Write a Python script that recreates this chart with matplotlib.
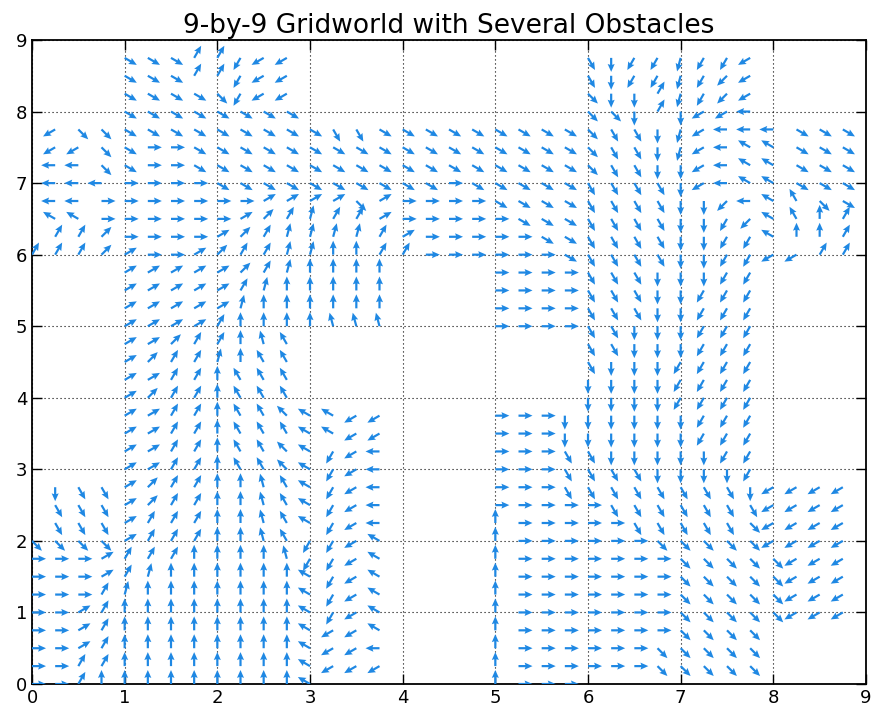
import numpy as np
import matplotlib
matplotlib.use("Agg")
import matplotlib.pyplot as plt

# ---- DATA ----
# one letter per grid state (0.25 spacing), 15 degree steps:
# a=0 (east), g=90 (north), m=180 (west), s=270 (south) ... x=345
# '.' = obstacle, no arrow.  Rows run from y=8.75 (top) down to y=0,
# groups of four letters are the nine unit cells x=0..9
dir_letters = "abcdefghijklmnopqrstuvwx"
step = 0.25
policy_rows = [
    ".... wwwe eqoo .... .... .... usqq rqqo ....",  # 8.75
    ".... wwwe eqoo .... .... .... usqq rqpo ....",
    ".... wwww vqoo .... .... .... vsse rqpo ....",
    ".... wwww wwww .... .... .... vvse soom ....",  # 8.0
    "movv wwww wwww wuuw wwww wwww vuus romm mwww",
    "moov waaw wwww wwww wwww wwww vuus romk kwww",
    "mmmv waaw wwww wwww wwww wwww vuus somk kwww",
    "mmmm aaaa wwww wwww wwaw wwww uuuu somk kwww",  # 7.0
    "mmma aaaa aacc ccvc aaaa wwww uuuu sspm kivw",
    "mkka aaaa acde feec aaaa awww uuuu ssqp kige",
    "meed aaaa cdef fffe caaa aaww uuuu ssqq kgge",
    "eeed caac deef fgge eaaa aaaw uuuu ssqq ooee",  # 6.0
    ".... cccc cdef gggg .... aaaa uuus ssqq ....",
    ".... cccc cefg gggg .... aaaa uuus sqqq ....",
    ".... cccc cfgg gggg .... aaaa uuus sqqq ....",
    ".... cccc eggg ghhh .... aaaa uuss sqqq ....",  # 5.0
    ".... ccde eghi .... .... .... uuss sqqq ....",
    ".... cdee fgii .... .... .... usss qqqq ....",
    ".... ccee giii .... .... .... ssss qqqq ....",
    ".... cdee giii .... .... .... ssss qqqq ....",  # 4.0
    ".... ccee giij kkoo .... aaas ssss sqqq ....",
    ".... ccee giii kkoo .... aaas ssss sqqq ....",
    ".... ccee giij kqom .... aaau usss ssqq ....",
    ".... ccee giij kqom .... aaau uuus sssq ....",  # 3.0
    "msuu cdee gghi kqom .... aaau uuuu uuus oooo",
    "muuu cdee gghi kqom .... aaaa auuu uuuu oooo",
    "muuu ceee gghi kqom .... gaaa aauu uuuv oooo",
    "vvvv ceee gghi qqok .... gaaa aaav vvvv oooo",  # 2.0
    "aaac eeeg gggh qqok .... gaaa aaaa vvvv vooo",
    "aaac efgg gggg kqok .... gaaa aaaa vvvv vooo",
    "aaae fggg gggg kqok .... gaaa aaaa vvvv vooo",
    "aace gggg gggg kqok .... gaaa aaaa vvvv vooo",  # 1.0
    "aace gggg gggg kook .... gaaa aaaa vvvv ....",
    "aace gggg gggg koom .... gaaa aaav vvvv ....",
    "aaee gggg gggg kooo .... gaaa aaav vvvv ....",
    "aaeg gggg gggg ksss .... gaaa ssss ssss ....",  # 0.0
]
ticks = list(range(10))
title = "9-by-9 Gridworld with Several Obstacles"

# ---- build arrow arrays ----
xs, ys, us, vs = [], [], [], []
n_rows = len(policy_rows)
for r, row in enumerate(policy_rows):
    row = row.replace(" ", "")
    y = (n_rows - 1 - r) * step
    for c, ch in enumerate(row):
        if ch == ".":
            continue
        ang = np.deg2rad(15 * dir_letters.index(ch))
        xs.append(c * step)
        ys.append(y)
        us.append(np.cos(ang))
        vs.append(np.sin(ang))

# ---- PLOT ----
fig = plt.figure(figsize=(8.76, 7.10), dpi=100)
ax = fig.add_axes([32 / 876, 1 - 684 / 710, 834 / 876, 644 / 710])

ax.quiver(xs, ys, us, vs, color="#1f88e3", units="dots", width=2.2,
          scale_units="dots", scale=1 / 14.0, headwidth=3.2, headlength=3.6,
          headaxislength=3.2, zorder=3)

ax.set_xlim(0, 9)
ax.set_ylim(0, 9)
ax.set_xticks(ticks)
ax.set_yticks(ticks)
ax.grid(True, color="black", linestyle=(0, (1, 2.6)), linewidth=0.8)
ax.set_axisbelow(True)
ax.tick_params(direction="in", top=True, right=True, length=7, width=1,
               labelsize=13)
for s in ax.spines.values():
    s.set_linewidth(1.3)
ax.set_title(title, fontsize=19, pad=5)

fig.savefig("out.png", dpi=100)
